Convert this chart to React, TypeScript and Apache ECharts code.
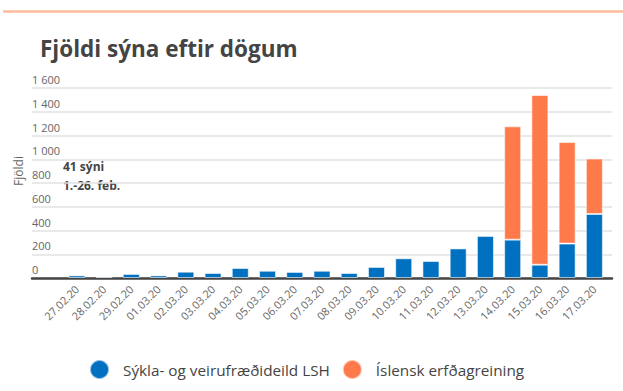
import React, { useEffect, useRef } from "react";
import * as echarts from "echarts";

const categories = [
  "", "27.02.20", "28.02.20", "29.02.20", "01.03.20", "02.03.20", "03.03.20", "04.03.20",
  "05.03.20", "06.03.20", "07.03.20", "08.03.20", "09.03.20", "10.03.20", "11.03.20",
  "12.03.20", "13.03.20", "14.03.20", "15.03.20", "16.03.20", "17.03.20",
];
const lshValues = [
  null, 22, 11, 34, 22, 53, 42, 84, 61, 51, 61, 42, 93, 166, 143, 249, 354, 323, 112, 290, 539,
];
const decodeValues = [
  null, null, null, null, null, null, null, null, null, null, null, null, null, null, null,
  null, null, 954, 1429, 855, 467,
];
const seriesNames = ["Sýkla- og veirufræðideild LSH", "Íslensk erfðagreining"];
const titleText = "Fjöldi sýna eftir dögum";
const axisName = "Fjöldi";
const noteLines = ["41 sýni", "1.-26. feb."];

const FONT = "'Open Sans', sans-serif";

export default function App() {
  const ref = useRef<HTMLDivElement>(null);
  useEffect(() => {
    document.body.style.margin = "0";
    const chart = echarts.init(ref.current!, null, { renderer: "svg" });
    const top = 88;
    const bottom = 113;
    chart.setOption({
      animation: false,
      textStyle: { fontFamily: FONT },
      grid: [
        { left: 36, right: 15, top, bottom },
        { left: 32, right: 11, top, bottom },
      ],
      xAxis: [
        {
          type: "category",
          gridIndex: 0,
          data: categories,
          axisLine: { show: false },
          axisTick: { show: false },
          axisLabel: { rotate: 45, color: "#666", fontSize: 11, margin: 9, interval: 0, fontFamily: FONT },
        },
        {
          type: "value",
          gridIndex: 1,
          min: 0,
          max: 1,
          axisLine: { show: true, onZero: false, lineStyle: { color: "#444", width: 2.5 } },
          axisTick: { show: false },
          axisLabel: { show: false },
          splitLine: { show: false },
        },
      ],
      yAxis: [
        { type: "value", gridIndex: 0, min: 0, max: 1600, interval: 200, show: false },
        {
          type: "value",
          gridIndex: 1,
          min: 0,
          max: 1600,
          interval: 200,
          axisLine: { show: false },
          axisTick: { show: false },
          splitLine: { lineStyle: { color: "#e2e2e2", width: 1.5 } },
          axisLabel: {
            inside: true,
            margin: 0,
            verticalAlign: "bottom",
            padding: [0, 0, 3, 0],
            color: "#666",
            fontSize: 11,
            fontFamily: FONT,
            formatter: (v: number) => String(v).replace(/\B(?=(\d{3})+(?!\d))/g, " "),
          },
        },
      ],
      legend: {
        left: 84,
        top: 354,
        icon: "circle",
        itemWidth: 19,
        itemHeight: 19,
        itemGap: 12,
        textStyle: { fontSize: 15.3, color: "#444", fontFamily: FONT, padding: [0, 0, 0, 9] },
        data: seriesNames,
      },
      series: [
        {
          name: seriesNames[0],
          type: "bar",
          stack: "t",
          xAxisIndex: 0,
          yAxisIndex: 0,
          barWidth: 17,
          data: lshValues,
          itemStyle: { color: "#0070C0", borderColor: "rgba(255,255,255,0.55)", borderWidth: 1 },
          z: 3,
        },
        {
          name: seriesNames[1],
          type: "bar",
          stack: "t",
          xAxisIndex: 0,
          yAxisIndex: 0,
          barWidth: 17,
          data: decodeValues,
          itemStyle: { color: "#FF7A4B", borderColor: "rgba(255,255,255,0.55)", borderWidth: 1 },
          z: 3,
        },
      ],
      graphic: [
        {
          type: "line",
          shape: { x1: 3, y1: 11.5, x2: 623, y2: 11.5 },
          style: { stroke: "#FFBB9C", lineWidth: 2.5 },
        },
        {
          type: "text",
          x: 40,
          y: 48,
          style: {
            text: titleText,
            font: `bold 22.5px ${FONT}`,
            fill: "#444",
            align: "left",
            verticalAlign: "middle",
          },
        },
        {
          type: "text",
          x: 18,
          y: 171,
          rotation: Math.PI / 2,
          style: {
            text: axisName,
            font: `12px ${FONT}`,
            fill: "#666",
            align: "center",
            verticalAlign: "middle",
          },
        },
        {
          type: "text",
          x: 63,
          y: 166,
          style: { text: noteLines[0], font: `bold 12px ${FONT}`, fill: "#444", verticalAlign: "middle" },
        },
        {
          type: "text",
          x: 63,
          y: 185,
          style: { text: noteLines[1], font: `bold 12px ${FONT}`, fill: "#444", verticalAlign: "middle" },
        },
      ],
    });
    return () => chart.dispose();
  }, []);
  return <div ref={ref} style={{ width: 623, height: 391 }} />;
}
